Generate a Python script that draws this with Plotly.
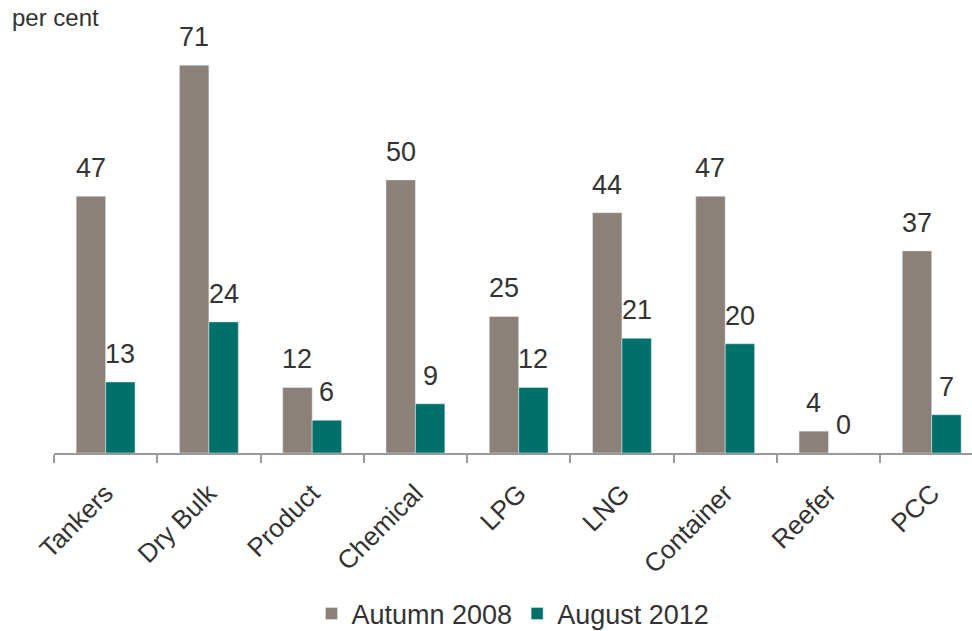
import plotly.graph_objects as go

categories = ["Tankers", "Dry Bulk", "Product", "Chemical", "LPG", "LNG", "Container", "Reefer", "PCC"]
autumn_2008 = [47, 71, 12, 50, 25, 44, 47, 4, 37]
august_2012 = [13, 24, 6, 9, 12, 21, 20, 0, 7]

FONT = "Liberation Sans, Arial, sans-serif"
TEXT_COLOR = "#333333"
GRAY = "#8B8178"
TEAL = "#00706B"

BARGAP = 0.43
CAT_PX = 103.25  # width of one category slot in pixels
BAR_OFFSET_PX = (1 - BARGAP) * CAT_PX / 4

fig = go.Figure()
fig.add_trace(go.Bar(name="Autumn 2008", x=categories, y=autumn_2008, marker=dict(color=GRAY)))
fig.add_trace(go.Bar(name="August 2012", x=categories, y=august_2012, marker=dict(color=TEAL)))

# value labels above each bar
for series, shift in ((autumn_2008, -BAR_OFFSET_PX), (august_2012, BAR_OFFSET_PX)):
    for cat, val in zip(categories, series):
        fig.add_annotation(
            x=cat, y=val, text=str(val), xref="x", yref="y",
            xanchor="center", yanchor="bottom", xshift=shift, yshift=11,
            showarrow=False, font=dict(size=27, color=TEXT_COLOR, family=FONT),
        )

fig.update_layout(
    width=972, height=631,
    margin=dict(l=54, r=0, t=16, b=178, autoexpand=False),
    barmode="group", bargap=BARGAP, bargroupgap=0,
    plot_bgcolor="white", paper_bgcolor="white",
    font=dict(family=FONT, color=TEXT_COLOR),
    legend=dict(
        orientation="h", x=0.5, xanchor="center",
        yref="container", y=1 - 614 / 631, yanchor="middle",
        font=dict(size=27, color=TEXT_COLOR, family=FONT),
        traceorder="normal",
    ),
    showlegend=True,
)
fig.update_xaxes(
    range=[-0.5, 8.39], automargin=False,
    showline=True, linecolor="#9a9a9a", linewidth=1.5,
    ticks="outside", tickson="boundaries", ticklen=8, tickcolor="#9a9a9a", tickwidth=1.5,
    tickangle=-45, ticklabelstandoff=13,
    tickfont=dict(size=26, color=TEXT_COLOR, family=FONT),
    showgrid=False,
)
fig.update_yaxes(range=[0, 80], visible=False, showgrid=False)
fig.add_annotation(
    text="per cent", xref="paper", yref="paper",
    x=-0.048, y=(453 - 18) / 437, xanchor="left", yanchor="middle",
    showarrow=False, font=dict(size=24, color=TEXT_COLOR, family=FONT),
)

fig.write_html("out.html")
